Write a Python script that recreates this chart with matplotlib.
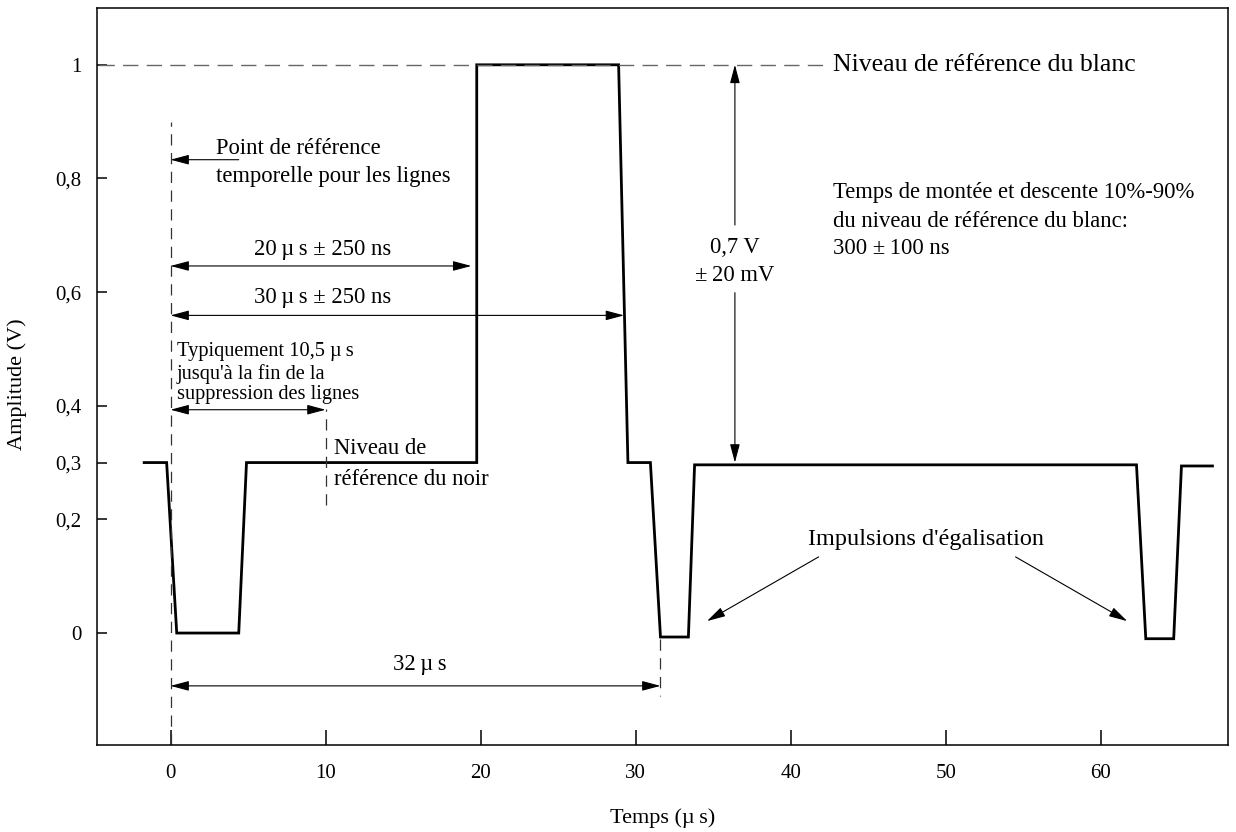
import numpy as np
import matplotlib.pyplot as plt

plt.rcParams['font.family'] = ['Liberation Serif', 'DejaVu Serif']

# Forme d'onde (temps en µs, amplitude en V)
t_signal = [-1.7, -0.25, 0.4, 4.4, 4.9, 19.75, 19.75, 28.9, 29.5, 30.95,
            31.6, 33.4, 33.8, 62.3, 62.9, 64.7, 65.2, 67.2]
v_signal = [0.3, 0.3, 0.0, 0.0, 0.3, 0.3, 1.0, 1.0, 0.3, 0.3,
            -0.007, -0.007, 0.296, 0.296, -0.01, -0.01, 0.294, 0.294]

x_ticks = [0, 10, 20, 30, 40, 50, 60]
y_ticks = [0, 0.2, 0.3, 0.4, 0.6, 0.8, 1]
y_labels = ['0', '0,2', '0,3', '0,4', '0,6', '0,8', '1']

fs_tick = 15
fs = 16.3
fig = plt.figure(figsize=(12.36, 8.32), dpi=100)
ax = fig.add_axes([0.0785, 0.1046, 0.915, 0.8858])

ax.plot(t_signal, v_signal, color='black', lw=2.0, solid_joinstyle='miter')

# niveau du blanc
ax.plot([-4.6, 42.5], [1, 1], color='#666666', lw=1.0, dashes=(11, 6))

# repères verticaux
ax.plot([0, 0], [-0.197, 0.9], color='#333333', lw=0.9, dashes=(9, 6))
ax.plot([10, 10], [0.225, 0.395], color='#333333', lw=0.9, dashes=(9, 6))
ax.plot([31.6, 31.6], [-0.01, -0.11], color='#333333', lw=0.9, dashes=(9, 6))

ax.set_xlim(-4.74, 68.2)
ax.set_ylim(-0.197, 1.1)
ax.set_xticks(x_ticks)
ax.set_xticklabels([str(x) for x in x_ticks], fontsize=fs_tick)
ax.set_yticks(y_ticks)
ax.set_yticklabels(y_labels, fontsize=fs_tick)
ax.tick_params(axis='x', direction='in', length=11, width=1.1, pad=14)
ax.tick_params(axis='y', direction='in', length=7, width=1.1, pad=11)
for s in ax.spines.values():
    s.set_linewidth(1.1)

ax.set_xlabel('Temps (\u00b5\u2009s)', fontsize=16, labelpad=18)
ax.set_ylabel('Amplitude (V)', fontsize=16)
ax.yaxis.set_label_coords(-0.062, 0.49)

two = dict(arrowstyle='<|-|>,head_length=0.75,head_width=0.2', color='black',
           lw=0.8, shrinkA=0, shrinkB=0, mutation_scale=15)
one = dict(arrowstyle='-|>,head_length=0.75,head_width=0.2', color='black',
           lw=0.8, shrinkA=0, shrinkB=0, mutation_scale=15)

# cotes horizontales
ax.annotate('', xy=(19.4, 0.646), xytext=(0, 0.646), arrowprops=two)
ax.text(9.8, 0.675, '20\u2009\u00b5\u2009s \u00b1 250 ns', fontsize=fs, ha='center', va='center')
ax.annotate('', xy=(29.25, 0.559), xytext=(0, 0.559), arrowprops=two)
ax.text(9.8, 0.59, '30\u2009\u00b5\u2009s \u00b1 250 ns', fontsize=fs, ha='center', va='center')
ax.annotate('', xy=(10, 0.393), xytext=(0, 0.393), arrowprops=two)
ax.annotate('', xy=(31.6, -0.093), xytext=(0, -0.093), arrowprops=two)
ax.text(16.1, -0.056, '32\u2009\u00b5\u2009s', fontsize=fs, ha='center', va='center')

# point de référence temporelle
ax.annotate('', xy=(0, 0.833), xytext=(4.4, 0.833), arrowprops=one)
ax.text(2.95, 0.853, 'Point de r\u00e9f\u00e9rence', fontsize=fs, ha='left', va='center')
ax.text(2.95, 0.803, 'temporelle pour les lignes', fontsize=fs, ha='left', va='center')

ax.text(0.4, 0.495, 'Typiquement 10,5 \u00b5\u2009s', fontsize=14.7, ha='left', va='center')
ax.text(0.4, 0.456, "jusqu'\u00e0 la fin de la", fontsize=14.7, ha='left', va='center')
ax.text(0.4, 0.419, 'suppression des lignes', fontsize=14.7, ha='left', va='center')

ax.text(10.55, 0.324, 'Niveau de', fontsize=fs, ha='left', va='center')
ax.text(10.55, 0.271, 'r\u00e9f\u00e9rence du noir', fontsize=fs, ha='left', va='center')

# amplitude du blanc
ax.annotate('', xy=(36.4, 1.0), xytext=(36.4, 0.718), arrowprops=one)
ax.annotate('', xy=(36.4, 0.3), xytext=(36.4, 0.599), arrowprops=one)
ax.text(36.4, 0.678, '0,7 V', fontsize=fs, ha='center', va='center')
ax.text(36.4, 0.63, '\u00b1\u200920 mV', fontsize=fs, ha='center', va='center')

ax.text(42.7, 1.0, 'Niveau de r\u00e9f\u00e9rence du blanc', fontsize=18.5, ha='left', va='center')

ax.text(42.7, 0.775, 'Temps de mont\u00e9e et descente 10%-90%', fontsize=fs, ha='left', va='center')
ax.text(42.7, 0.725, 'du niveau de r\u00e9f\u00e9rence du blanc:', fontsize=fs, ha='left', va='center')
ax.text(42.7, 0.677, '300 \u00b1\u2009100 ns', fontsize=fs, ha='left', va='center')

# impulsions d'égalisation
ax.text(48.7, 0.164, "Impulsions d'\u00e9galisation", fontsize=17.5, ha='center', va='center')
ax.annotate('', xy=(34.6, 0.021), xytext=(41.8, 0.134), arrowprops=one)
ax.annotate('', xy=(61.7, 0.021), xytext=(54.5, 0.134), arrowprops=one)

plt.savefig('out.png', dpi=100)
